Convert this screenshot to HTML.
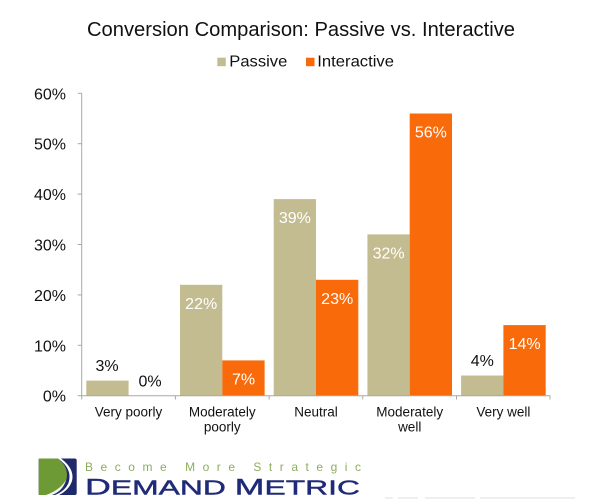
<!DOCTYPE html>
<html>
<head>
<meta charset="utf-8">
<style>
  html, body { margin: 0; padding: 0; background: #ffffff; }
  body { width: 600px; height: 501px; overflow: hidden; }
  svg { display: block; font-family: "Liberation Sans", Arial, sans-serif; }
</style>
</head>
<body>
<svg width="600" height="501" viewBox="0 0 600 501" xmlns="http://www.w3.org/2000/svg">
  <rect x="0" y="0" width="600" height="501" fill="#ffffff"/>

  <!-- Title -->
  <text x="87" y="36" font-size="20.5" fill="#111" textLength="428" lengthAdjust="spacingAndGlyphs">Conversion Comparison: Passive vs. Interactive</text>

  <!-- Legend -->
  <rect x="217.3" y="57.7" width="8.5" height="8.5" fill="#C4BC91"/>
  <text x="229.3" y="66.5" font-size="16" fill="#111" textLength="58" lengthAdjust="spacingAndGlyphs">Passive</text>
  <rect x="306" y="57.7" width="8.5" height="8.5" fill="#F96A0A"/>
  <text x="317.3" y="66.5" font-size="16" fill="#111" textLength="76.7" lengthAdjust="spacingAndGlyphs">Interactive</text>

  <!-- Y axis -->
  <g stroke="#A8A8A8" stroke-width="1" fill="none">
    <line x1="81.7" y1="93.3" x2="81.7" y2="395.7"/>
    <line x1="77.7" y1="93.3" x2="81.7" y2="93.3"/>
    <line x1="77.7" y1="143.7" x2="81.7" y2="143.7"/>
    <line x1="77.7" y1="194.1" x2="81.7" y2="194.1"/>
    <line x1="77.7" y1="244.5" x2="81.7" y2="244.5"/>
    <line x1="77.7" y1="294.9" x2="81.7" y2="294.9"/>
    <line x1="77.7" y1="345.3" x2="81.7" y2="345.3"/>
    <line x1="77.7" y1="395.7" x2="81.7" y2="395.7"/>
  </g>
  <g font-size="16" fill="#111" text-anchor="end">
    <text x="66" y="99.3">60%</text>
    <text x="66" y="149.7">50%</text>
    <text x="66" y="200.1">40%</text>
    <text x="66" y="250.5">30%</text>
    <text x="66" y="300.9">20%</text>
    <text x="66" y="351.3">10%</text>
    <text x="66" y="401.7">0%</text>
  </g>

  <!-- Bars -->
  <g fill="#C4BC91">
    <rect x="86.3" y="380.6" width="42.3" height="15.1"/>
    <rect x="180.0" y="284.8" width="42.3" height="110.9"/>
    <rect x="273.7" y="199.1" width="42.3" height="196.6"/>
    <rect x="367.4" y="234.4" width="42.3" height="161.3"/>
    <rect x="461.1" y="375.5" width="42.3" height="20.2"/>
  </g>
  <g fill="#F96A0A">
    <rect x="222.3" y="360.4" width="42.3" height="35.3"/>
    <rect x="316.0" y="279.8" width="42.3" height="115.9"/>
    <rect x="409.7" y="113.5" width="42.3" height="282.2"/>
    <rect x="503.4" y="325.1" width="42.3" height="70.6"/>
  </g>

  <!-- X axis -->
  <g stroke="#A8A8A8" stroke-width="1" fill="none">
    <line x1="81.7" y1="395.7" x2="550" y2="395.7"/>
    <line x1="81.7" y1="395.7" x2="81.7" y2="399.5"/>
    <line x1="175.4" y1="395.7" x2="175.4" y2="399.5"/>
    <line x1="269.1" y1="395.7" x2="269.1" y2="399.5"/>
    <line x1="362.8" y1="395.7" x2="362.8" y2="399.5"/>
    <line x1="456.5" y1="395.7" x2="456.5" y2="399.5"/>
    <line x1="550" y1="395.7" x2="550" y2="399.5"/>
  </g>

  <!-- Data labels -->
  <g font-size="16" text-anchor="middle">
    <text x="107.0" y="371" fill="#111">3%</text>
    <text x="150.0" y="386.7" fill="#111">0%</text>
    <text x="201.2" y="308.8" fill="#ffffff">22%</text>
    <text x="243.5" y="384.4" fill="#ffffff">7%</text>
    <text x="294.9" y="223.1" fill="#ffffff">39%</text>
    <text x="337.2" y="303.8" fill="#ffffff">23%</text>
    <text x="388.6" y="258.4" fill="#ffffff">32%</text>
    <text x="430.9" y="137.5" fill="#ffffff">56%</text>
    <text x="482.3" y="366" fill="#111">4%</text>
    <text x="524.6" y="349.1" fill="#ffffff">14%</text>
  </g>

  <!-- Category labels -->
  <g font-size="13.5" fill="#111" text-anchor="middle">
    <text x="128.5" y="416.5">Very poorly</text>
    <text x="222.3" y="416.5">Moderately</text>
    <text x="222.3" y="431.5">poorly</text>
    <text x="316.0" y="416.5">Neutral</text>
    <text x="409.7" y="416.5">Moderately</text>
    <text x="409.7" y="431.5">well</text>
    <text x="503.4" y="416.5">Very well</text>
  </g>

  <!-- Logo icon -->
  <g>
    <rect x="38.7" y="458.5" width="38" height="36.5" rx="2" fill="#1F2A6B"/>
    <path d="M38.7 458.5 L58 458.5 Q70 468 66 481 Q62 490 52 495 L38.7 495 Z" fill="#6E9A35"/>
    <path d="M58 458.5 Q73 469 68.5 483 Q65 491 55 495 L59 495 Q69 490 72 481 Q75 469 61 458.5 Z" fill="#ffffff"/>
    <path d="M46 495 Q60 490 66 480 Q63 491 52 495 Z" fill="#ffffff" opacity="0.9"/>
  </g>
  <!-- Logo text -->
  <text x="85" y="471" font-size="12" fill="#8CAE5C" textLength="276" lengthAdjust="spacing">Become More Strategic</text>
  <text x="85" y="494.3" fill="#1F2A78" stroke="#1F2A78" stroke-width="0.4" textLength="275" lengthAdjust="spacingAndGlyphs" font-size="20"><tspan font-size="22.5">D</tspan>EMAND <tspan font-size="22.5">M</tspan>ETRIC</text>

  <!-- faint footer text -->
  <g fill="#efefef">
    <rect x="385" y="497" width="8" height="2"/>
    <rect x="398" y="497" width="20" height="2"/>
    <rect x="425" y="497" width="50" height="2"/>
    <rect x="480" y="497" width="95" height="2"/>
  </g>
</svg>
</body>
</html>
